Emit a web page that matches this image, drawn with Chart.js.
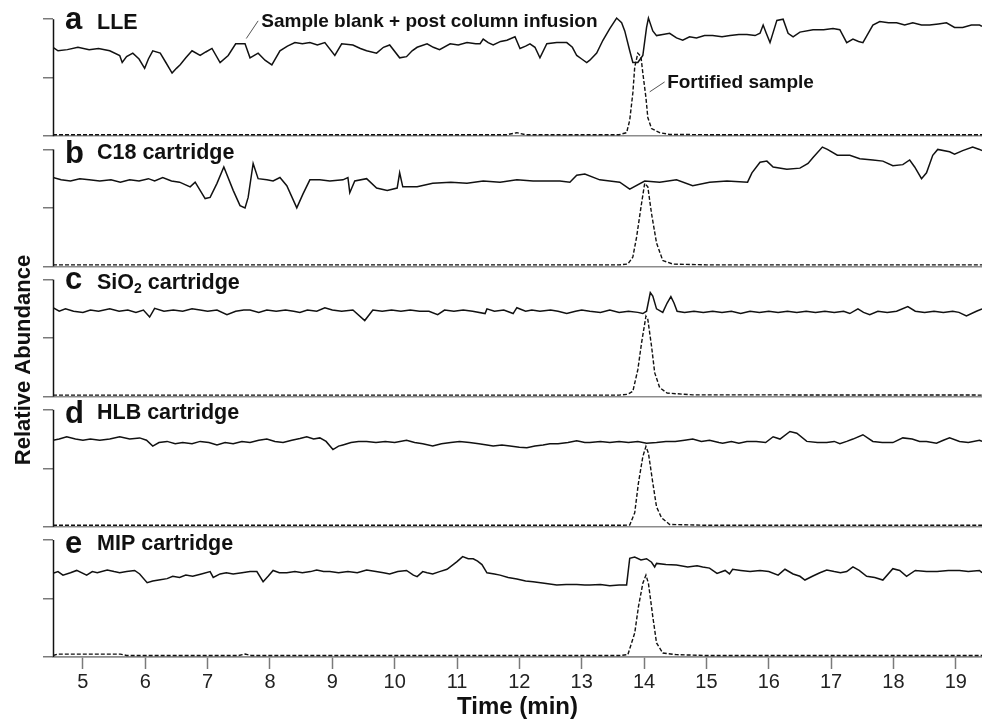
<!DOCTYPE html>
<html>
<head>
<meta charset="utf-8">
<script src="https://cdn.jsdelivr.net/npm/chart.js@4.4.0/dist/chart.umd.min.js"></script>
<style>
html,body{margin:0;padding:0;background:#fff;}
#wrap{width:982px;height:722px;position:relative;}
</style>
</head>
<body>
<div id="wrap"><canvas id="c" width="982" height="722"></canvas></div>
<script>
// ---------- DATA ----------
const xTicks = [5,6,7,8,9,10,11,12,13,14,15,16,17,18,19];
const yTicks = [0,50,100];
const panelLetters = ['a','b','c','d','e'];
const panelNames = ['LLE','C18 cartridge','SiO|2| cartridge','HLB cartridge','MIP cartridge'];
const blankLabel = 'Sample blank + post column infusion';
const fortLabel = 'Fortified sample';

// Panel a (LLE): sample blank + post column infusion, [time, relative abundance]
const blankA = [[4.52,76],[4.60,73],[4.75,74],[4.92,76],[5.10,74],[5.25,75],[5.43,73],[5.59,69],[5.63,63],[5.70,68],[5.80,71],[5.90,66],[5.99,58],[6.05,66],[6.12,73],[6.24,71],[6.33,63],[6.43,54],[6.50,58],[6.56,61],[6.65,67],[6.75,73],[6.88,69],[6.97,72],[7.07,75],[7.20,63],[7.33,69],[7.45,79],[7.60,79],[7.68,67],[7.81,71],[7.92,65],[8.03,61],[8.16,73],[8.28,77],[8.40,80],[8.52,79],[8.64,80],[8.76,78],[8.88,80],[9.04,69],[9.15,79],[9.33,78],[9.45,75],[9.55,73],[9.71,71],[9.82,76],[9.92,78],[10.08,67],[10.19,68],[10.28,73],[10.36,76],[10.52,79],[10.62,76],[10.72,74],[10.89,79],[11.02,78],[11.16,80],[11.30,79],[11.37,79],[11.42,83],[11.50,80],[11.58,78],[11.70,81],[11.80,82],[11.93,85],[12.01,75],[12.10,77],[12.17,79],[12.25,76],[12.33,67],[12.44,79],[12.60,80],[12.76,80],[12.85,76],[12.92,69],[13.00,66],[13.08,63],[13.13,65],[13.24,71],[13.34,82],[13.45,92],[13.56,101],[13.64,97],[13.69,90],[13.77,73],[13.82,63],[13.90,63],[13.98,69],[14.04,93],[14.07,101],[14.14,90],[14.20,86],[14.30,87],[14.41,88],[14.52,84],[14.62,82],[14.73,85],[14.84,84],[14.97,86],[15.10,86],[15.25,85],[15.38,86],[15.52,87],[15.65,87],[15.78,86],[15.86,88],[15.91,95],[15.96,88],[16.02,80],[16.13,99],[16.23,100],[16.31,88],[16.39,85],[16.50,89],[16.71,91],[16.88,91],[17.03,92],[17.14,91],[17.25,80],[17.35,83],[17.44,81],[17.51,80],[17.67,95],[17.78,98],[17.92,97],[18.05,97],[18.18,95],[18.31,97],[18.45,95],[18.58,95],[18.72,96],[18.85,97],[18.98,93],[19.11,93],[19.25,95],[19.38,95],[19.42,94]];
const fortA = [[4.52,1.3],[6.0,1.3],[8.0,1.3],[10.0,1.3],[11.8,1.3],[11.96,3],[12.1,1.3],[13.0,1.3],[13.6,1.3],[13.72,3],[13.77,13.7],[13.82,37],[13.85,59],[13.90,71],[13.95,68],[13.98,54],[14.03,33],[14.06,16],[14.12,6.5],[14.25,3],[14.41,1.5],[15.0,1.3],[17.0,1.3],[19.42,1.3]];

// Panel b (C18 cartridge)
const blankB = [[4.52,76],[4.65,74],[4.80,73],[4.95,75],[5.10,74],[5.27,73],[5.45,74],[5.60,72],[5.75,74],[5.90,73],[6.05,75],[6.15,73],[6.28,76],[6.42,73],[6.55,72],[6.72,68],[6.80,72],[6.96,58],[7.04,59],[7.15,71],[7.26,85],[7.41,65],[7.52,52],[7.60,50],[7.65,59],[7.73,88],[7.81,75],[7.95,74],[8.05,73],[8.16,76],[8.27,69],[8.43,50],[8.53,62],[8.64,74],[8.80,74],[8.96,73],[9.17,74],[9.25,76],[9.28,63],[9.36,73],[9.55,75],[9.71,67],[9.88,65],[10.04,67],[10.08,80],[10.13,68],[10.36,68],[10.61,71],[10.90,72],[11.16,71],[11.42,73],[11.69,72],[11.96,74],[12.22,73],[12.49,73],[12.65,73],[12.81,72],[12.92,78],[13.05,79],[13.29,74],[13.45,73],[13.61,72],[13.77,66],[14.01,73],[14.25,72],[14.52,74],[14.78,69],[15.05,72],[15.33,73],[15.66,72],[15.73,80],[15.86,89],[15.97,90],[16.07,85],[16.29,83],[16.50,84],[16.63,88],[16.71,93],[16.86,102],[16.94,100],[17.10,95],[17.30,95],[17.46,92],[17.67,91],[17.83,90],[17.99,86],[18.15,87],[18.26,91],[18.34,85],[18.45,75],[18.53,80],[18.63,95],[18.71,100],[18.90,98],[18.98,96],[19.11,99],[19.27,102],[19.38,100],[19.42,99]];
const fortB = [[4.52,1.3],[8.0,1.3],[12.0,1.3],[13.6,1.3],[13.74,2],[13.82,8],[13.88,25],[13.96,54],[14.01,71],[14.06,68],[14.12,45],[14.20,20],[14.30,5],[14.46,2],[15.0,1.3],[19.42,1.3]];

// Panel c (SiO2 cartridge)
const blankC = [[4.52,76],[4.62,73],[4.72,75],[4.85,73],[5.00,72],[5.12,74],[5.25,73],[5.43,75],[5.58,73],[5.72,74],[5.85,72],[5.97,74],[6.07,68],[6.15,75.5],[6.30,73],[6.45,74],[6.60,73],[6.75,75],[6.88,74],[7.00,73],[7.15,74],[7.31,70],[7.45,73],[7.58,74],[7.68,74],[7.82,72],[7.95,74],[8.10,73],[8.25,74],[8.38,73],[8.48,72],[8.60,74],[8.75,73],[8.88,76],[9.00,74],[9.15,73],[9.33,74],[9.52,65],[9.65,74],[9.80,73],[9.95,74],[10.10,73],[10.25,74],[10.40,73],[10.55,73],[10.69,70],[10.80,74],[10.95,73],[11.10,74],[11.25,73],[11.45,71],[11.48,75],[11.60,73],[11.75,74],[11.90,71],[11.96,76],[12.10,73],[12.20,74],[12.33,73],[12.50,74],[12.62,73],[12.76,71],[12.90,73],[13.00,74],[13.13,73],[13.30,72],[13.45,74],[13.60,72],[13.75,73],[13.90,72],[13.98,71],[14.04,73],[14.10,89],[14.14,86],[14.20,75],[14.30,72],[14.37,80],[14.43,85.5],[14.48,80],[14.53,73],[14.65,72],[14.80,73],[14.95,72],[15.10,73],[15.25,72],[15.40,73],[15.55,71],[15.70,73],[15.85,72],[16.00,73],[16.15,72],[16.30,73],[16.45,72],[16.60,73],[16.75,72],[16.90,73],[17.05,72],[17.20,73],[17.30,71],[17.43,75],[17.52,72],[17.62,70],[17.75,73],[17.90,72],[18.05,73],[18.23,77],[18.35,73],[18.50,72],[18.65,73],[18.80,72],[18.95,73],[19.05,72],[19.17,69],[19.33,73],[19.42,75]];
const fortC = [[4.52,1.3],[8.0,1.3],[12.0,1.3],[13.6,1.3],[13.74,2],[13.82,4.5],[13.90,23],[13.96,46],[14.03,68.7],[14.06,66],[14.12,43],[14.17,20.5],[14.25,7.7],[14.37,3],[14.78,1.5],[19.42,1.3]];

// Panel d (HLB cartridge)
const blankD = [[4.52,74],[4.62,75],[4.74,77],[4.88,75],[5.00,74],[5.12,75],[5.27,74],[5.43,75],[5.59,77],[5.75,75],[5.91,76],[6.02,74],[6.12,69],[6.22,72],[6.35,73],[6.48,71],[6.60,72],[6.75,71],[6.88,73],[7.02,72],[7.15,70],[7.28,72],[7.41,71],[7.55,73],[7.68,72],[7.82,74],[7.95,75],[8.08,73],[8.21,72],[8.35,74],[8.48,75.5],[8.59,77],[8.70,75],[8.80,76],[8.90,73],[9.01,66],[9.10,69],[9.17,70],[9.30,72],[9.42,73],[9.55,73],[9.70,72],[9.85,73],[10.00,72],[10.19,74],[10.32,72],[10.45,71],[10.61,69],[10.75,71],[10.90,72],[11.04,73],[11.20,72],[11.35,71],[11.48,70],[11.58,69],[11.72,70],[11.85,69],[12.00,68],[12.12,67.5],[12.25,69],[12.38,70],[12.49,71],[12.62,71],[12.78,72],[12.92,73.5],[13.05,72],[13.13,72],[13.30,73],[13.45,72],[13.60,73],[13.75,72],[13.90,73],[14.04,71.5],[14.20,72],[14.35,73],[14.50,73],[14.65,74],[14.78,75],[14.92,73],[15.05,74],[15.20,72],[15.26,71.5],[15.40,73],[15.52,71.5],[15.65,73],[15.80,73],[15.95,72],[16.07,77],[16.18,75],[16.34,81.5],[16.45,80],[16.61,73],[16.78,72],[16.93,72],[17.05,73],[17.14,71],[17.25,73],[17.35,75],[17.51,78.7],[17.67,73],[17.82,72],[17.99,72],[18.15,76],[18.30,75],[18.42,73],[18.53,73],[18.69,71.5],[18.80,74],[18.90,76],[19.06,73],[19.20,72],[19.38,74],[19.42,73]];
const fortD = [[4.52,1.3],[8.0,1.3],[12.0,1.3],[13.6,1.3],[13.77,1.5],[13.85,12],[13.91,37.6],[13.98,60],[14.03,68.7],[14.07,63],[14.14,37.6],[14.20,17],[14.28,7.7],[14.41,2],[15.0,1.3],[19.42,1.3]];

// Panel e (MIP cartridge)
const blankE = [[4.52,71.5],[4.60,73],[4.68,70],[4.80,72],[4.90,74],[5.06,70],[5.15,73],[5.23,72],[5.39,74.4],[5.50,73],[5.59,72],[5.70,73],[5.83,74],[5.91,71],[6.03,63.5],[6.12,65],[6.24,66],[6.35,67],[6.44,69],[6.55,68],[6.65,70],[6.76,69],[6.90,71],[7.04,73],[7.09,68],[7.20,71],[7.30,72],[7.41,71],[7.55,72],[7.68,73],[7.79,73],[7.89,64.4],[7.97,69],[8.05,74],[8.15,72],[8.27,72],[8.40,73],[8.52,72],[8.65,73],[8.75,74.4],[8.86,73],[8.96,73],[9.10,72],[9.25,73],[9.40,72],[9.55,74.4],[9.70,73],[9.82,72],[9.92,71],[10.05,73],[10.19,74],[10.30,70],[10.36,68.7],[10.45,73],[10.52,72],[10.61,71],[10.72,73],[10.84,75],[11.00,81.5],[11.09,85.8],[11.18,84],[11.26,84],[11.33,82],[11.40,79],[11.48,72],[11.60,71],[11.69,70],[11.82,68],[11.96,66.7],[12.10,65],[12.22,64.4],[12.40,63],[12.60,61.6],[12.75,62],[12.92,62],[13.05,61.5],[13.13,61.6],[13.30,62],[13.45,61],[13.60,61.6],[13.72,61.6],[13.77,84.4],[13.85,85.5],[13.95,83],[14.04,84],[14.12,81],[14.17,77],[14.20,80],[14.35,79],[14.52,78.7],[14.70,77],[14.85,78],[14.94,77],[15.05,76],[15.17,71.5],[15.30,74],[15.37,71],[15.42,75],[15.55,74],[15.70,73],[15.86,74],[16.00,73],[16.15,70],[16.26,75],[16.39,71],[16.50,69],[16.58,65.8],[16.70,69],[16.82,72],[16.93,74.4],[17.05,73],[17.15,72],[17.25,73],[17.35,77],[17.45,74],[17.57,69],[17.70,68],[17.83,65.8],[17.99,75.5],[18.10,74],[18.21,69],[18.35,74],[18.53,73],[18.70,73],[18.88,74],[19.06,74],[19.20,73],[19.38,74],[19.42,72]];
const fortE = [[4.52,1.3],[4.60,2.5],[5.60,2.5],[5.70,1.3],[7.50,1.3],[7.60,2.5],[7.70,1.3],[12.0,1.3],[13.6,1.3],[13.74,2],[13.85,20.5],[13.91,43],[13.98,63],[14.03,70],[14.07,63],[14.14,34.5],[14.20,12],[14.30,3.4],[14.52,2],[15.0,1.3],[19.42,1.3]];

const blanks = [blankA, blankB, blankC, blankD, blankE];
const forts = [fortA, fortB, fortC, fortD, fortE];

// ---------- STYLE / LAYOUT ----------
const FONT = '"Liberation Sans", Arial, Helvetica, sans-serif';
const panelIds = ['ya','yb','yc','yd','ye'];
const letterDrop = [9.5, 14, 9.5, 13.5, 13];
const nameDrop = 9.5;

const datasets = [];
blanks.forEach((arr, i) => {
  datasets.push({
    label: blankLabel, yAxisID: panelIds[i],
    data: arr.map(p => ({x: p[0], y: p[1]})),
    borderColor: '#111', borderWidth: 1.5, pointRadius: 0, tension: 0, fill: false
  });
  datasets.push({
    label: fortLabel, yAxisID: panelIds[i],
    data: forts[i].map(p => ({x: p[0], y: p[1]})),
    borderColor: '#111', borderWidth: 1.4, borderDash: [4, 2], pointRadius: 0, tension: 0, fill: false
  });
});

const scales = {
  x: {
    type: 'linear', position: 'bottom', min: 4.52, max: 19.42,
    afterBuildTicks: s => { s.ticks = xTicks.map(v => ({value: v})); },
    afterFit: s => { s.height = 65; },
    grid: { drawOnChartArea: false, drawTicks: true, tickLength: 12, tickColor: '#7a7a7a', tickWidth: 1.5 },
    border: { display: true, color: '#8c8c8c', width: 1.5 },
    ticks: { color: '#222', padding: 1, font: { family: FONT, size: 20 }, maxRotation: 0, autoSkip: false },
    title: { display: true, text: 'Time (min)', color: '#111', font: { family: FONT, size: 24, weight: 'bold' }, padding: { top: 0, bottom: 0 } }
  }
};
panelIds.forEach((id, i) => {
  scales[id] = {
    type: 'linear', position: 'left', stack: 'panels', stackWeight: 1, weight: 5 - i,
    min: 0, max: 111.3, offset: false,
    afterBuildTicks: s => { s.ticks = yTicks.map(v => ({value: v})); },
    afterFit: s => { s.width = 53; },
    grid: {
      drawOnChartArea: true, drawTicks: true, tickLength: 10, tickWidth: 1.5, tickColor: '#7a7a7a',
      color: c => (c.tick && c.tick.value === 0) ? '#8c8c8c' : 'rgba(0,0,0,0)',
      lineWidth: 1.5
    },
    border: { display: false },
    ticks: { display: false }
  };
});

const decor = {
  id: 'decor',
  afterDraw(chart) {
    const ctx = chart.ctx, xs = chart.scales.x, area = chart.chartArea;
    ctx.save();
    panelIds.forEach((id, i) => {
      const ys = chart.scales[id];
      const top = ys.getPixelForValue(100), bot = ys.getPixelForValue(0);
      ctx.strokeStyle = '#111'; ctx.lineWidth = 1.5;
      ctx.beginPath(); ctx.moveTo(area.left + 0.5, top); ctx.lineTo(area.left + 0.5, bot); ctx.stroke();
      ctx.fillStyle = '#111'; ctx.textAlign = 'left'; ctx.textBaseline = 'alphabetic';
      ctx.font = 'bold 31px ' + FONT;
      ctx.fillText(panelLetters[i], area.left + 12, top + letterDrop[i]);
      const parts = panelNames[i].split('|');
      let x = area.left + 44;
      const by = top + nameDrop;
      parts.forEach((t, k) => {
        if (k % 2 === 1) {
          ctx.font = 'bold 14px ' + FONT;
          ctx.fillText(t, x, by + 4);
          x += ctx.measureText(t).width;
        } else {
          ctx.font = 'bold 21.5px ' + FONT;
          ctx.fillText(t, x, by);
          x += ctx.measureText(t).width;
        }
      });
    });
    // annotations in panel a
    const ya = chart.scales.ya;
    ctx.font = 'bold 19px ' + FONT;
    ctx.fillStyle = '#111';
    ctx.fillText(blankLabel, xs.getPixelForValue(7.86), ya.getPixelForValue(93.2));
    ctx.fillText(fortLabel, xs.getPixelForValue(14.37), ya.getPixelForValue(41.6));
    ctx.strokeStyle = '#555'; ctx.lineWidth = 1;
    ctx.beginPath();
    ctx.moveTo(xs.getPixelForValue(7.81), ya.getPixelForValue(98.6));
    ctx.lineTo(xs.getPixelForValue(7.62), ya.getPixelForValue(83.5));
    ctx.moveTo(xs.getPixelForValue(14.33), ya.getPixelForValue(46.4));
    ctx.lineTo(xs.getPixelForValue(14.09), ya.getPixelForValue(37.9));
    ctx.stroke();
    // y title
    ctx.translate(30, 360);
    ctx.rotate(-Math.PI / 2);
    ctx.textAlign = 'center';
    ctx.font = 'bold 22px ' + FONT;
    ctx.fillText('Relative Abundance', 0, 0);
    ctx.restore();
  }
};

new Chart(document.getElementById('c'), {
  type: 'line',
  data: { datasets },
  options: {
    responsive: false, animation: false, devicePixelRatio: 1,
    parsing: true,
    layout: { padding: { left: 0, right: 0, top: 6, bottom: 0 } },
    plugins: { legend: { display: false }, tooltip: { enabled: false }, title: { display: false } },
    scales
  },
  plugins: [decor]
});
</script>
</body>
</html>
